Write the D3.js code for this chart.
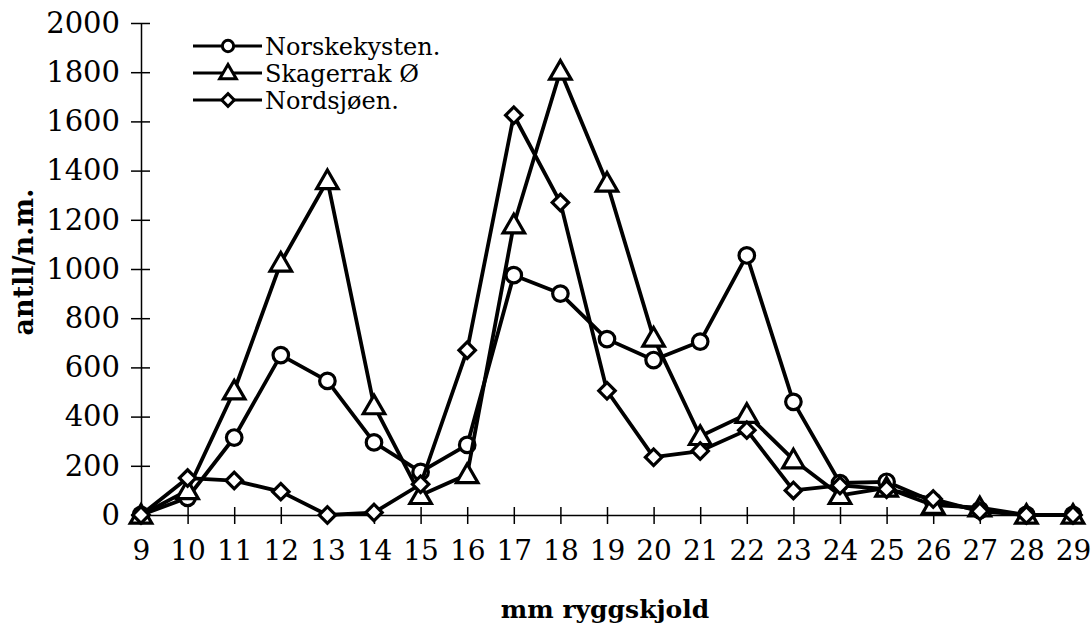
<!DOCTYPE html>
<html>
<head>
<meta charset="utf-8">
<script src="https://cdn.jsdelivr.net/npm/d3@7"></script>
<style>
  body { margin: 0; background: #fff; }
  svg text { font-family: "DejaVu Serif", "Liberation Serif", serif; fill: #000; }
</style>
</head>
<body>
<div id="chart"></div>
<script>
const sizes = [9,10,11,12,13,14,15,16,17,18,19,20,21,22,23,24,25,26,27,28,29];
const norskekysten = [0,70,315,650,545,295,175,285,975,900,715,630,705,1055,460,130,135,55,20,0,0];
const skagerrak = [0,100,505,1025,1360,445,80,165,1180,1805,1350,720,320,410,225,80,110,40,30,0,0];
const nordsjoen = [0,150,140,95,0,10,125,670,1625,1270,505,235,260,345,100,120,105,65,15,0,0];
const yTicks = [0,200,400,600,800,1000,1200,1400,1600,1800,2000];
const seriesNames = ["Norskekysten.", "Skagerrak Ø", "Nordsjøen."];

const width = 1091, height = 625;

const svg = d3.select("#chart").append("svg")
  .attr("width", width).attr("height", height);

const x = d3.scaleLinear().domain([9, 29]).range([141, 1073]);
const y = d3.scaleLinear().domain([0, 2000]).range([515, 23]);

// y axis
const yAxis = d3.axisLeft(y).tickValues(yTicks).tickFormat(d3.format("d")).tickSize(0).tickPadding(21);
const gy = svg.append("g").attr("transform", `translate(${x(9)},0)`).call(yAxis);
gy.select(".domain").attr("stroke", "#000").attr("stroke-width", 1.5);
gy.selectAll(".tick line").attr("x1", -10).attr("x2", 9).attr("stroke", "#000").attr("stroke-width", 1.5);
gy.selectAll(".tick text").attr("font-size", 29).attr("font-family", "DejaVu Serif");

// x axis
const xAxis = d3.axisBottom(x).tickValues(sizes).tickSize(0).tickPadding(25);
const gx = svg.append("g").attr("transform", `translate(0,${y(0)})`).call(xAxis);
gx.select(".domain").attr("stroke", "#000").attr("stroke-width", 1.5);
gx.selectAll(".tick line").attr("y1", -8).attr("y2", 9).attr("stroke", "#000").attr("stroke-width", 1.5);
gx.selectAll(".tick text").attr("font-size", 28).attr("font-family", "DejaVu Serif");

// axis titles
svg.append("text").attr("x", 605).attr("y", 618).attr("text-anchor", "middle")
  .attr("font-size", 25).attr("font-weight", "bold").text("mm  ryggskjold");
svg.append("text").attr("transform", "translate(33,262) rotate(-90)").attr("text-anchor", "middle")
  .attr("font-size", 27).attr("font-weight", "bold").text("antll/n.m.");

// markers
const shapes = [d3.symbolCircle, d3.symbolTriangle, d3.symbolSquare];
const symSizes = [190, 200, 135];
const rot = [0, 0, 45];

const line = d3.line().x((d, i) => x(sizes[i])).y(d => y(d));
const allSeries = [norskekysten, skagerrak, nordsjoen];

allSeries.forEach((vals, s) => {
  svg.append("path").datum(vals)
    .attr("d", line).attr("fill", "none")
    .attr("stroke", "#000").attr("stroke-width", 3.8).attr("stroke-linejoin", "round");
  svg.append("g").selectAll("path").data(vals).join("path")
    .attr("transform", (d, i) => `translate(${x(sizes[i])},${y(d) + (s === 1 ? 2 : 0)}) rotate(${rot[s]})`)
    .attr("d", d3.symbol().type(shapes[s]).size(symSizes[s]))
    .attr("fill", "#fff").attr("stroke", "#000").attr("stroke-width", 3.2);
});

// legend
const leg = svg.append("g");
seriesNames.forEach((name, s) => {
  const ly = 46 + s * 27;
  leg.append("line").attr("x1", 193).attr("x2", 262).attr("y1", ly).attr("y2", ly)
    .attr("stroke", "#000").attr("stroke-width", 3);
  leg.append("path").attr("transform", `translate(228,${ly + (s === 1 ? 1 : 0)}) rotate(${rot[s]})`)
    .attr("d", d3.symbol().type(shapes[s]).size(s === 0 ? 100 : (s === 1 ? 120 : 80)))
    .attr("fill", "#fff").attr("stroke", "#000").attr("stroke-width", 3);
  leg.append("text").attr("x", 265).attr("y", ly + 9).attr("font-size", 24).text(name);
});
</script>
</body>
</html>
